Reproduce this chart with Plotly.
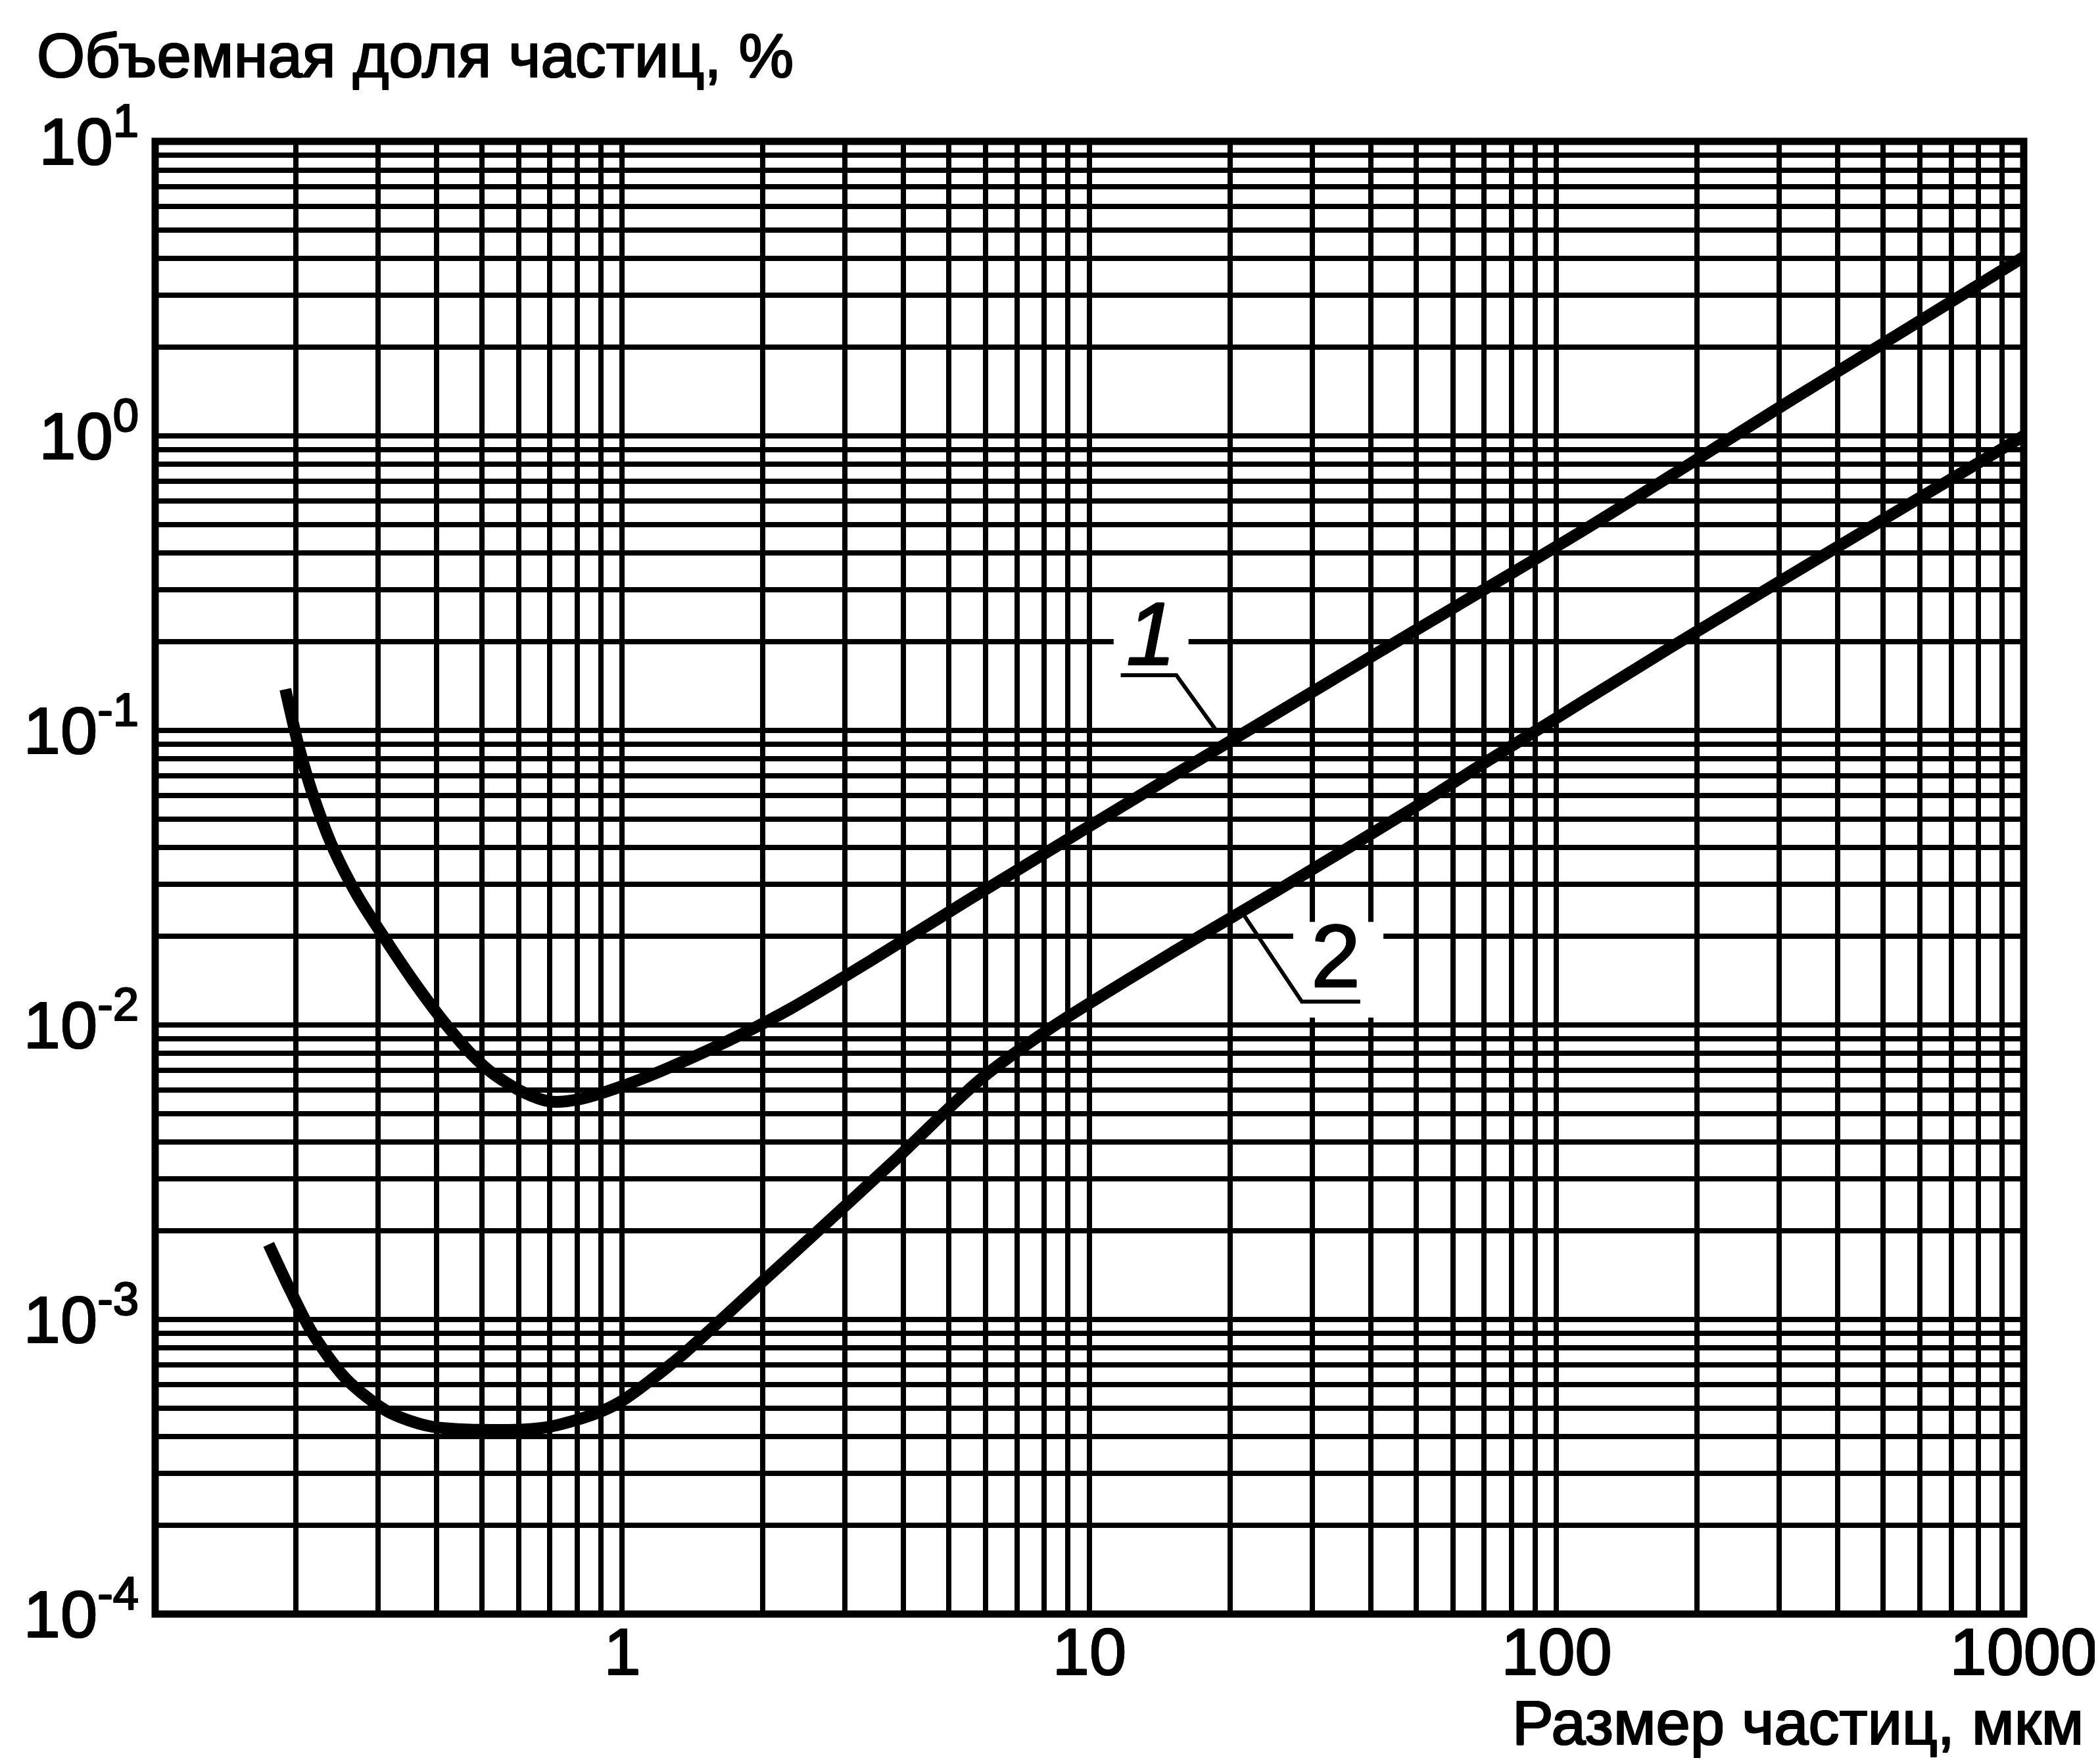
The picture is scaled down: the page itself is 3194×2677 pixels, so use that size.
import math
import plotly.graph_objects as go

# ---- data (particle size, um ; volume share, %) ----
size_um_1 = [0.19, 0.203, 0.218, 0.241, 0.271, 0.308, 0.355, 0.41, 0.474, 0.531,
             0.615, 0.70, 0.81, 1.0, 1.32, 1.8, 2.3, 3.5, 5.47, 15.3, 42,
             117, 327, 1000]
share_1 = [0.138, 0.088, 0.060, 0.0395, 0.0275, 0.020, 0.0143, 0.0105, 0.0080, 0.0068,
           0.0059, 0.0055, 0.0056, 0.0062, 0.0074, 0.0093, 0.0114, 0.0170, 0.0264, 0.0712,
           0.186, 0.49, 1.36, 4.05]

size_um_2 = [0.175, 0.195, 0.217, 0.256, 0.314, 0.385, 0.503, 0.686, 0.879, 1.0,
             1.32, 1.63, 2.0, 2.25, 3.85, 5.82, 8.25, 15.3, 25.6, 49.2, 70,
             176, 493, 1000]
share_2 = [0.0018, 0.00125, 0.0009, 0.00063, 0.000488, 0.000435, 0.000422, 0.00043,
           0.00048, 0.00053, 0.00074, 0.0010, 0.00135, 0.0016, 0.0035, 0.0065, 0.00975,
           0.0179, 0.029, 0.0543, 0.0775, 0.192, 0.513, 1.0]

# tick labels
x_tick_vals = [1, 10, 100, 1000]
x_tick_text = ["1", "10", "100", "1000"]
y_tick_vals = [1e-4, 1e-3, 1e-2, 1e-1, 1, 10]
y_tick_text = ["10<sup>-4</sup>", "10<sup>-3</sup>", "10<sup>-2</sup>",
               "10<sup>-1</sup>", "10<sup>0</sup>", "10<sup>1</sup>"]

# grid (every 2..9 x 10^n between the labelled decades)
grid_mantissas = [2, 3, 4, 5, 6, 7, 8, 9]
x_decades = [0.1, 1, 10, 100]
y_decades = [1e-4, 1e-3, 1e-2, 1e-1, 1]

# curve labels: text, label position (size, share), leader polyline, white box behind label
curve_labels = ["<i>1</i>", "2"]
label_pos_size = [13.55, 33.65]
label_pos_share = [0.212, 0.0171]
leader_sizes = [[11.67, 15.35, 18.6], [21.5, 28.5, 38.0]]
leader_shares = [[0.154, 0.154, 0.101], [0.0234, 0.012, 0.012]]
box_sizes = [[11.27, 16.3], [27.3, 42.6]]
box_shares = [[0.14, 0.286], [0.0106, 0.0224]]

FONT = "Liberation Sans, Arial, Helvetica, sans-serif"
HEAVY = "1px 1px 0 black, -1px -1px 0 black, 1px -1px 0 black, -1px 1px 0 black"


def minor_vals(decades):
    out = []
    for d in decades:
        for m in grid_mantissas:
            out.append(round(m * d, 10))
    return out


fig = go.Figure()

curve_line = dict(color="black", width=18, shape="spline", smoothing=0.8)
fig.add_trace(go.Scatter(x=size_um_1, y=share_1, mode="lines", line=curve_line,
                         showlegend=False, hoverinfo="skip"))
fig.add_trace(go.Scatter(x=size_um_2, y=share_2, mode="lines", line=curve_line,
                         showlegend=False, hoverinfo="skip"))

shapes = []
for bx, by in zip(box_sizes, box_shares):
    shapes.append(dict(type="rect", xref="x", yref="y", x0=bx[0], x1=bx[1],
                       y0=by[0], y1=by[1], fillcolor="white",
                       line=dict(width=0), layer="between"))
shapes.append(dict(type="rect", xref="paper", yref="paper", x0=0, x1=1, y0=0, y1=1,
                   line=dict(color="black", width=11), layer="above"))

for lx, ly in zip(leader_sizes, leader_shares):
    fig.add_trace(go.Scatter(x=lx, y=ly, mode="lines",
                             line=dict(color="black", width=6),
                             showlegend=False, hoverinfo="skip"))

annotations = []
for txt, px, py in zip(curve_labels, label_pos_size, label_pos_share):
    annotations.append(dict(x=math.log10(px), y=math.log10(py), xref="x", yref="y",
                            text=txt, showarrow=False,
                            font=dict(family=FONT, size=135, color="black", shadow=HEAVY),
                            xanchor="center", yanchor="middle"))

annotations.append(dict(x=-0.0641, y=1.0583, xref="paper", yref="paper",
                        text="Объемная доля частиц, %", showarrow=False,
                        xanchor="left", yanchor="middle",
                        font=dict(family=FONT, size=94, color="black", shadow=HEAVY)))
annotations.append(dict(x=1.0326, y=-0.0741, xref="paper", yref="paper",
                        text="Размер частиц, мкм", showarrow=False,
                        xanchor="right", yanchor="middle",
                        font=dict(family=FONT, size=94, color="black", shadow=HEAVY)))

grid_common = dict(showgrid=True, gridcolor="black", gridwidth=8)
axis_common = dict(type="log", showline=False, zeroline=False, ticks="",
                   ticklabeloverflow="allow",
                   tickfont=dict(family=FONT, size=101, color="black", shadow=HEAVY),
                   **grid_common)

fig.update_layout(
    width=3194, height=2677,
    margin=dict(l=228, r=112, t=207, b=230, pad=0),
    paper_bgcolor="white", plot_bgcolor="white",
    xaxis=dict(range=[-1, 3.0002], tickmode="array", tickvals=x_tick_vals,
               ticktext=x_tick_text, ticklabelstandoff=-10,
               minor=dict(tickmode="array", tickvals=minor_vals(x_decades), ticks="",
                          **grid_common),
               **axis_common),
    yaxis=dict(range=[-4, 1.0002], tickmode="array", tickvals=y_tick_vals,
               ticktext=y_tick_text, ticklabelstandoff=24,
               minor=dict(tickmode="array", tickvals=minor_vals(y_decades), ticks="",
                          **grid_common),
               **axis_common),
    shapes=shapes,
    annotations=annotations,
)

fig.write_html("out.html")
